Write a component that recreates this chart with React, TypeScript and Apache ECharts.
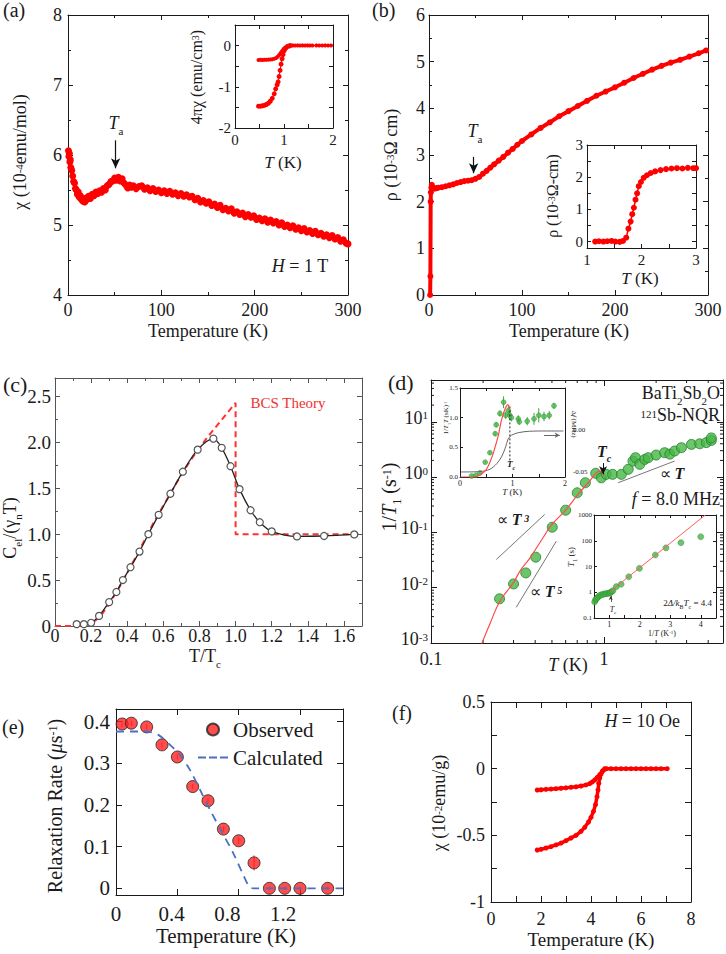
import React, { useEffect, useRef } from 'react';
import * as echarts from 'echarts';

const SERIF = 'Liberation Serif, Times New Roman, Times, serif';
const INK = '#1a1a1a';
const RED = '#ff0000';
const GREEN = '#46b646';
const GREEN_EDGE = '#24802a';

// ---------- (a) susceptibility ----------
const aChi = [
  [0.5, 6.06], [1, 5.98], [1.5, 6.02], [2, 5.9], [2.5, 5.93], [3, 5.82], [4, 5.78], [5, 5.7], [6, 5.62], [7, 5.6],
  [8, 5.52], [9, 5.5], [10, 5.44], [11, 5.47], [12, 5.4], [13, 5.42], [14, 5.37], [15, 5.39], [16, 5.34], [17, 5.37],
  [18, 5.33], [19, 5.38], [20, 5.36], [22, 5.41], [24, 5.38], [26, 5.44], [28, 5.42], [30, 5.47], [32, 5.45], [34, 5.49],
  [36, 5.47], [38, 5.52], [40, 5.5], [42, 5.56], [44, 5.58], [46, 5.62], [48, 5.63], [50, 5.67], [52, 5.64], [54, 5.68],
  [56, 5.63], [58, 5.66], [60, 5.6], [62, 5.57], [64, 5.53], [66, 5.57], [68, 5.54], [70, 5.56], [73, 5.52], [76, 5.55],
  [79, 5.56], [82, 5.51], [85, 5.53], [88, 5.49], [91, 5.52], [94, 5.48], [97, 5.5], [100, 5.46], [103, 5.49], [106, 5.45],
  [109, 5.48], [112, 5.44], [115, 5.46], [118, 5.42], [121, 5.45], [124, 5.41], [127, 5.43], [130, 5.4], [133, 5.41], [136, 5.36],
  [139, 5.38], [142, 5.33], [145, 5.35], [148, 5.31], [151, 5.33], [154, 5.28], [157, 5.3], [160, 5.25], [163, 5.28], [166, 5.22],
  [169, 5.24], [172, 5.2], [175, 5.23], [178, 5.17], [181, 5.19], [184, 5.15], [187, 5.17], [190, 5.12], [193, 5.15], [196, 5.11],
  [199, 5.13], [202, 5.08], [205, 5.1], [208, 5.06], [211, 5.09], [214, 5.04], [217, 5.07], [220, 5.03], [223, 5.05], [226, 5.0],
  [229, 5.03], [232, 4.98], [235, 5.0], [238, 4.96], [241, 4.99], [244, 4.94], [247, 4.96], [250, 4.92], [253, 4.95], [256, 4.9],
  [259, 4.92], [262, 4.88], [265, 4.91], [268, 4.86], [271, 4.88], [274, 4.84], [277, 4.86], [280, 4.82], [283, 4.85], [286, 4.8],
  [289, 4.82], [292, 4.77], [295, 4.79], [298, 4.74], [300, 4.73],
];
const aTaArrow = [[51, 6.21], [51, 5.81]];
const aInsFC = [
  [0.48, -0.35], [0.52, -0.345], [0.56, -0.35], [0.6, -0.345], [0.64, -0.345], [0.68, -0.34], [0.72, -0.335], [0.76, -0.33],
  [0.8, -0.32], [0.84, -0.3], [0.87, -0.27], [0.9, -0.23], [0.93, -0.18], [0.96, -0.13], [0.99, -0.085], [1.02, -0.05],
  [1.05, -0.025], [1.09, -0.01], [1.13, 0], [1.18, 0.005], [1.23, 0], [1.28, 0.005], [1.33, 0], [1.38, 0.005], [1.43, 0],
  [1.48, 0.005], [1.53, 0], [1.58, 0], [1.66, 0.005], [1.72, 0], [1.78, 0], [1.84, 0.005], [1.9, 0], [1.96, 0],
];
const aInsZFC = [
  [0.48, -1.47], [0.52, -1.47], [0.56, -1.46], [0.6, -1.45], [0.64, -1.43], [0.68, -1.4], [0.72, -1.35], [0.76, -1.28],
  [0.8, -1.17], [0.83, -1.05], [0.86, -0.95], [0.88, -0.88], [0.9, -0.75], [0.92, -0.6], [0.94, -0.45], [0.96, -0.32],
  [0.98, -0.22], [1.0, -0.13], [1.03, -0.07], [1.06, -0.03], [1.1, -0.01], [1.13, 0],
];

// ---------- (b) resistivity ----------
const bRho = [
  [1.2, 0], [1.5, 0.4], [1.8, 2.0], [2.0, 2.2], [2.5, 2.3], [3, 2.36], [4, 2.3], [6, 2.28], [8, 2.29], [10, 2.3],
  [14, 2.31], [18, 2.33], [22, 2.35], [26, 2.37], [30, 2.4], [34, 2.42], [38, 2.44], [42, 2.45], [46, 2.46], [50, 2.49],
  [54, 2.53], [58, 2.6], [62, 2.66], [66, 2.73], [70, 2.8], [75, 2.88], [80, 2.96], [85, 3.05], [90, 3.13], [95, 3.22],
  [100, 3.3], [110, 3.44], [120, 3.58], [130, 3.7], [140, 3.83], [150, 3.94], [160, 4.05], [170, 4.16], [180, 4.27],
  [190, 4.36], [200, 4.45], [210, 4.55], [220, 4.65], [230, 4.74], [240, 4.83], [250, 4.91], [260, 4.98], [270, 5.04],
  [280, 5.11], [290, 5.18], [298, 5.24],
];
const bTaArrow = [[48, 2.96], [48, 2.61]];
const bIns = [
  [1.15, 0], [1.22, 0.01], [1.3, 0], [1.37, 0.01], [1.45, 0.02], [1.52, 0], [1.6, -0.01], [1.66, 0.02], [1.72, 0.12],
  [1.76, 0.4], [1.8, 0.62], [1.83, 0.85], [1.86, 1.05], [1.89, 1.3], [1.92, 1.5], [1.95, 1.72], [1.99, 1.85], [2.04, 1.98],
  [2.1, 2.06], [2.17, 2.13], [2.25, 2.18], [2.35, 2.22], [2.45, 2.25], [2.55, 2.27], [2.65, 2.28], [2.75, 2.27],
  [2.85, 2.29], [2.95, 2.28], [3.0, 2.28],
];

// ---------- (c) specific heat ----------
const cCel = [
  [0.12, 0.02], [0.16, 0.02], [0.2, 0.035], [0.244, 0.11], [0.3, 0.26], [0.34, 0.37], [0.376, 0.5], [0.418, 0.64],
  [0.468, 0.81], [0.517, 1.0], [0.574, 1.21], [0.639, 1.44], [0.708, 1.68], [0.79, 1.92], [0.877, 2.04], [0.923, 1.94],
  [0.972, 1.74], [1.022, 1.49], [1.083, 1.26], [1.134, 1.13], [1.2, 1.03], [1.34, 0.975], [1.49, 0.98], [1.657, 0.997],
];
const cBCS = [
  [0, 0], [0.1, 0], [0.15, 0.004], [0.2, 0.025], [0.25, 0.1], [0.3, 0.24], [0.35, 0.4], [0.4, 0.58], [0.45, 0.76],
  [0.5, 0.95], [0.55, 1.14], [0.6, 1.31], [0.65, 1.48], [0.7, 1.65], [0.75, 1.8], [0.8, 1.94], [0.85, 2.07], [0.9, 2.19],
  [0.95, 2.31], [1.0, 2.43], [1.0, 1.0], [1.7, 1.0],
];

// ---------- (d) NQR 1/T1 ----------
const dRate = [
  [0.249, 0.0063], [0.3, 0.0117], [0.353, 0.0185], [0.403, 0.0356], [0.502, 0.124], [0.6, 0.252], [0.7, 0.52],
  [0.78, 0.79], [0.895, 1.17], [0.965, 0.97], [1.03, 1.12], [1.12, 1.12], [1.26, 1.12], [1.38, 1.38], [1.47, 1.95],
  [1.52, 2.24], [1.61, 1.7], [1.72, 2.09], [1.8, 2.24], [2.0, 2.5], [2.24, 2.76], [2.4, 2.6], [2.56, 2.96], [2.8, 3.4],
  [3.2, 3.9], [3.57, 4.0], [3.9, 4.2], [4.17, 4.6], [4.17, 5.1],
];
const dFit = [
  [0.196, 0.00095], [0.22, 0.0023], [0.25, 0.0057], [0.3, 0.0125], [0.33, 0.021], [0.372, 0.034], [0.444, 0.08],
  [0.5, 0.139], [0.6, 0.252], [0.707, 0.485], [0.827, 0.85], [0.903, 1.2], [0.95, 1.28], [1.0, 1.08],
];
const dT3 = [[0.2385, 0.0323], [0.454, 0.211]];
const dT5 = [[0.311, 0.00442], [0.53, 0.0693]];
const dT1 = [[1.205, 0.789], [2.56, 1.95]];
const dTcArrow = [[0.987, 1.79], [0.987, 1.13]];
const dMinorX = [0.2, 0.3, 0.4, 0.5, 0.6, 0.7, 0.8, 0.9, 2, 3, 4];
const dMinorY = [
  0.002, 0.003, 0.004, 0.005, 0.006, 0.007, 0.008, 0.009, 0.02, 0.03, 0.04, 0.05, 0.06, 0.07, 0.08, 0.09,
  0.2, 0.3, 0.4, 0.5, 0.6, 0.7, 0.8, 0.9, 2, 3, 4, 5, 6, 7, 8, 9, 20, 30, 40, 50,
];
// inset d1: 1/T1T vs T, with error, and frequency shift
const d1Green = [
  [0.22, 0.017, 0.01], [0.3, 0.03, 0.01], [0.38, 0.07, 0.01], [0.48, 0.25, 0.02], [0.57, 0.41, 0.03], [0.67, 0.73, 0.04],
  [0.69, 0.88, 0.04], [0.76, 1.07, 0.05], [0.83, 1.26, 0.1], [0.87, 1.04, 0.06], [0.92, 1.12, 0.08], [0.95, 1.04, 0.08],
  [0.98, 1.0, 0.06], [1.11, 0.98, 0.06], [1.13, 0.93, 0.05], [1.28, 0.94, 0.07], [1.41, 0.98, 0.1], [1.5, 1.04, 0.12],
  [1.6, 1.02, 0.08], [1.7, 1.04, 0.07], [1.79, 1.2, 0.05],
];
const d1Red = [
  [0, 0], [0.25, 0], [0.35, 0.02], [0.45, 0.08], [0.51, 0.14], [0.57, 0.25], [0.63, 0.39], [0.68, 0.54], [0.73, 0.7],
  [0.79, 0.96], [0.86, 1.15], [0.91, 1.22], [0.95, 1.14],
];
const d1Gray = [
  [0.02, -0.05], [0.38, -0.0495], [0.57, -0.0468], [0.7, -0.0401], [0.79, -0.0321], [0.857, -0.0223], [0.92, -0.0104],
  [0.98, -0.0063], [1.11, -0.0032], [1.33, -0.0015], [1.65, -0.0012], [1.97, -0.0012],
];
const d1GrayArrow = [[1.6, -0.0063], [1.9, -0.0063]];
const d1TcLine = [[0.95, 0.28], [0.95, 1.2]];
// inset d2: T1 vs 1/T
const d2T1 = [
  [0.52, 0.42], [0.55, 0.5], [0.58, 0.56], [0.62, 0.63], [0.66, 0.7], [0.7, 0.76], [0.75, 0.8], [0.8, 0.84], [0.85, 0.86],
  [0.9, 0.88], [0.95, 0.9], [1.0, 0.92], [1.04, 0.97], [1.08, 1.05], [1.12, 1.15], [1.23, 1.65], [1.39, 2.04], [1.64, 4.0],
  [1.99, 8.5], [2.51, 28], [2.86, 53], [3.35, 84], [4.0, 143],
];
const d2Fit = [[1.0, 1.0], [4.15, 1000]];
const d2TcArrow = [[1.05, 0.42], [1.05, 0.72]];

// ---------- (e) muSR relaxation ----------
const eObs = [
  [0.04, 0.394, 0.006], [0.1, 0.396, 0.006], [0.2, 0.387, 0.006], [0.3, 0.344, 0.006], [0.4, 0.315, 0.006],
  [0.5, 0.244, 0.006], [0.6, 0.21, 0.006], [0.7, 0.142, 0.006], [0.8, 0.114, 0.008], [0.9, 0.061, 0.018],
  [1.0, 0, 0.004], [1.1, 0, 0.004], [1.2, 0, 0.004], [1.38, 0, 0.004],
];
const eCalc = [
  [0, 0.376], [0.2, 0.376], [0.276, 0.368], [0.341, 0.348], [0.417, 0.32], [0.482, 0.284], [0.548, 0.236],
  [0.613, 0.188], [0.689, 0.136], [0.765, 0.084], [0.83, 0.032], [0.869, 0.004], [0.895, 0], [1.48, 0],
];

// ---------- (f) susceptibility ----------
const fFC = [
  [1.85, -0.16], [2.0, -0.158], [2.2, -0.155], [2.4, -0.153], [2.6, -0.15], [2.8, -0.147], [3.0, -0.144], [3.2, -0.14],
  [3.4, -0.136], [3.6, -0.13], [3.8, -0.122], [3.95, -0.112], [4.05, -0.1], [4.15, -0.085], [4.25, -0.065], [4.35, -0.045],
  [4.45, -0.022], [4.55, -0.005], [4.62, 0], [4.8, 0], [5.0, 0], [5.2, 0], [5.4, 0], [5.6, 0], [5.8, 0], [6.0, 0],
  [6.2, 0], [6.4, 0], [6.6, 0], [6.8, 0], [7.05, 0],
];
const fZFC = [
  [1.85, -0.61], [2.0, -0.605], [2.2, -0.595], [2.4, -0.585], [2.6, -0.572], [2.8, -0.558], [3.0, -0.54], [3.2, -0.52],
  [3.4, -0.5], [3.6, -0.47], [3.75, -0.44], [3.9, -0.4], [4.0, -0.365], [4.1, -0.32], [4.18, -0.27], [4.24, -0.21],
  [4.28, -0.16], [4.31, -0.11], [4.35, -0.07], [4.4, -0.04], [4.47, -0.015], [4.55, 0],
];

// ---------- helpers ----------
const isMult = (v: number, s: number) => Math.abs(v / s - Math.round(v / s)) < 1e-6;
const stepFmt = (s: number, d: number, z = '0') => (v: number) =>
  isMult(v, s) ? (Math.abs(v) < 1e-9 ? z : v.toFixed(d)) : '';
const isPow10 = (v: number) => {
  const e = Math.log10(v);
  return Math.abs(e - Math.round(e)) < 1e-6;
};

function rich(size: number, color = INK) {
  const s = Math.round(size * 0.62);
  const pb = Math.round(size * 0.22);
  const base: any = { fontFamily: SERIF, fontSize: size, lineHeight: size, color, verticalAlign: 'bottom', padding: [0, 0, pb, 0] };
  const small: any = { fontFamily: SERIF, fontSize: s, lineHeight: s, color, verticalAlign: 'bottom' };
  const up = Math.round(size * 0.52);
  return {
    n: base,
    i: { ...base, fontStyle: 'italic' },
    b: { ...base, fontStyle: 'italic', fontWeight: 'bold' },
    sup: { ...small, padding: [0, 0, up, 0] },
    supb: { ...small, fontStyle: 'italic', fontWeight: 'bold', padding: [0, 0, up, 0] },
    sub: { ...small, padding: [0, 0, 0, 0] },
    subi: { ...small, fontStyle: 'italic', padding: [0, 0, 0, 0] },
    subb: { ...small, fontStyle: 'italic', fontWeight: 'bold', padding: [0, 0, 0, 0] },
  };
}

function txt(x: number, y: number, text: string, size: number, o: any = {}) {
  return {
    type: 'text', x, y, rotation: o.rot || 0, silent: true, z: 100,
    style: {
      text, rich: rich(size, o.color || INK), align: o.align || 'center', verticalAlign: 'middle',
      fill: o.color || INK, fontFamily: SERIF, fontSize: size,
    },
  };
}

function buildOption() {
  const xAxes: any[] = [];
  const yAxes: any[] = [];
  const mk = (p: any) => {
    const c = p.color || INK;
    const tl = p.tick ?? 5;
    const a: any = {
      type: p.type || 'value',
      gridIndex: p.grid,
      position: p.pos,
      min: p.min,
      max: p.max,
      axisLine: { show: p.line !== false, onZero: false, lineStyle: { color: c, width: 1 } },
      axisTick: { show: p.ticks !== false, inside: true, length: tl, lineStyle: { color: c, width: 1 } },
      minorTick: { show: !!p.minor, splitNumber: p.minor || 5, length: Math.max(2, Math.round(tl * 0.55)), lineStyle: { color: c, width: 1 } },
      splitLine: { show: false },
      minorSplitLine: { show: false },
      axisLabel: p.fmt
        ? { show: true, formatter: p.fmt, fontFamily: SERIF, fontSize: p.fs || 18, color: INK, margin: p.margin ?? 6, rich: p.rich, hideOverlap: false }
        : { show: false },
    };
    if (p.interval != null) a.interval = p.interval;
    if (p.type === 'log') a.logBase = 10;
    return a;
  };
  const addX = (p: any) => { xAxes.push(mk(p)); return xAxes.length - 1; };
  const addY = (p: any) => { yAxes.push(mk(p)); return yAxes.length - 1; };
  const pairX = (p: any, mirror: any = {}) => { const i = addX({ ...p, pos: 'bottom' }); addX({ ...p, ...mirror, pos: 'top', fmt: null }); return i; };
  const pairY = (p: any, mirror: any = {}) => { const i = addY({ ...p, pos: 'left' }); addY({ ...p, ...mirror, pos: 'right', fmt: null }); return i; };

  const grids = [
    { left: 68, top: 15, width: 280, height: 280 }, // 0 a
    { left: 235, top: 25, width: 98, height: 103 }, // 1 a inset
    { left: 429, top: 15, width: 279, height: 280 }, // 2 b
    { left: 587, top: 145, width: 109, height: 103 }, // 3 b inset
    { left: 55, top: 378, width: 307, height: 248 }, // 4 c
    { left: 431, top: 380, width: 292, height: 263 }, // 5 d
    { left: 460, top: 388, width: 105, height: 89 }, // 6 d1
    { left: 594, top: 515, width: 122, height: 103 }, // 7 d2
    { left: 116, top: 709, width: 227, height: 186 }, // 8 e
    { left: 491, top: 702, width: 200, height: 200 }, // 9 f
  ].map((g) => ({ ...g, containLabel: false, outerBoundsMode: 'none' }));

  // (a)
  const xa = pairX({ grid: 0, min: 0, max: 300, interval: 100, minor: 2, fmt: stepFmt(100, 0), fs: 18, margin: 6 });
  const ya = pairY({ grid: 0, min: 4, max: 8, interval: 1, minor: 2, fmt: stepFmt(1, 0), fs: 18, margin: 6 });
  const xai = pairX({ grid: 1, min: 0, max: 2, interval: 0.5, tick: 4, fmt: stepFmt(1, 0), fs: 15, margin: 4 });
  const yai = pairY({ grid: 1, min: -2, max: 0.5, interval: 0.5, tick: 4, fmt: stepFmt(1, 0), fs: 15, margin: 4 });
  // (b)
  const xb = pairX({ grid: 2, min: 0, max: 300, interval: 100, minor: 2, fmt: stepFmt(100, 0), fs: 18, margin: 6 });
  const yb = pairY({ grid: 2, min: 0, max: 6, interval: 1, minor: 2, fmt: stepFmt(1, 0), fs: 18, margin: 4 });
  const xbi = pairX({ grid: 3, min: 1, max: 3, interval: 0.5, tick: 4, fmt: stepFmt(1, 0), fs: 15, margin: 4 });
  const ybi = pairY({ grid: 3, min: -0.2, max: 3, tick: 4, fmt: stepFmt(1, 0), fs: 15, margin: 4 });
  // (c)
  const xc = pairX({ grid: 4, min: 0, max: 1.7, interval: 0.2, minor: 2, color: '#555', fmt: stepFmt(0.2, 1), fs: 18, margin: 1 });
  const yc = pairY({ grid: 4, min: 0, max: 2.7, interval: 0.5, minor: 2, color: '#555', fmt: stepFmt(0.5, 1), fs: 19, margin: 4 });
  // (d)
  const dxFmt = (v: number) => (Math.abs(v - 0.1) < 1e-9 ? '0.1' : Math.abs(v - 1) < 1e-9 ? '1' : '');
  const dyFmt = (v: number) => (isPow10(v) ? `{n|10}{s|${Math.round(Math.log10(v))}}` : '');
  const dyRich = {
    n: { fontFamily: SERIF, fontSize: 18, lineHeight: 18, color: INK, verticalAlign: 'bottom', padding: [0, 0, 4, 0] },
    s: { fontFamily: SERIF, fontSize: 11, lineHeight: 11, color: INK, verticalAlign: 'bottom', padding: [0, 0, 10, 0] },
  };
  const xd = pairX({ grid: 5, type: 'log', min: 0.1, max: 4.87, tick: 6, fmt: dxFmt, fs: 18, margin: 7 });
  const yd = pairY({ grid: 5, type: 'log', min: 0.001, max: 56.9, tick: 6, fmt: dyFmt, rich: dyRich, fs: 18, margin: 3 });
  const xd1 = pairX({ grid: 6, min: 0, max: 2, interval: 0.5, tick: 3, fmt: stepFmt(1, 0), fs: 8, margin: 2 });
  const yd1 = addY({ grid: 6, pos: 'left', min: 0, max: 1.5, interval: 0.5, tick: 3, fmt: stepFmt(0.5, 1, '0.0'), fs: 7, margin: 2 });
  const yd1r = addY({
    grid: 6, pos: 'right', min: -0.056, max: 0.05, interval: 0.002, ticks: false, fs: 7, margin: 8,
    fmt: (v: number) => (Math.abs(v) < 1e-9 ? '0.00' : Math.abs(v + 0.05) < 1e-9 ? '-0.05' : ''),
  });
  const d2yFmt = (v: number) => {
    if (!isPow10(v)) return '';
    const r = Math.round(Math.log10(v));
    return r >= 0 ? String(Math.pow(10, r)) : '0.1';
  };
  const xd2 = pairX({ grid: 7, min: 0.5, max: 4.5, interval: 0.5, tick: 3, fmt: stepFmt(1, 0), fs: 8, margin: 2 });
  const yd2 = pairY({ grid: 7, type: 'log', min: 0.1, max: 1000, tick: 3, fmt: d2yFmt, fs: 7, margin: 2 });
  // (e)
  const xe = pairX({ grid: 8, min: 0, max: 1.48, interval: 0.4, tick: 6 });
  addX({
    grid: 8, pos: 'bottom', min: 0, max: 1.63, interval: 0.4, line: false, ticks: false, fs: 21, margin: 8,
    fmt: (v: number) => (isMult(v, 0.4) && v < 1.5 ? (Math.abs(v) < 1e-9 ? '0' : v.toFixed(1)) : ''),
  });
  const ye = pairY({ grid: 8, min: -0.016, max: 0.43, tick: 6, fmt: stepFmt(0.1, 1), fs: 21, margin: 6 });
  // (f)
  const xf = pairX({ grid: 9, min: 0, max: 8, interval: 1, tick: 6, fmt: stepFmt(2, 0), fs: 18, margin: 8 });
  const yf = pairY({
    grid: 9, min: -1, max: 0.5, interval: 0.25, tick: 6, fs: 18, margin: 6,
    fmt: (v: number) => (isMult(v, 0.5) ? String(Math.round(v * 10) / 10) : ''),
  });

  const arrowLine = (pts: number[][], color = '#111', size = [7, 10], width = 1.2) => ({
    silent: true, symbol: ['none', 'arrow'], symbolSize: size, animation: false,
    lineStyle: { color, width, type: 'solid' }, label: { show: false }, emphasis: { disabled: true },
    data: [[{ coord: pts[0] }, { coord: pts[1] }]],
  });
  const on = (x: number, y: number) => ({ xAxisIndex: x, yAxisIndex: y });
  const dotLine = (name: string, data: any, color: string, size: number, width: number, extra: any = {}) => ({
    name, type: 'line', data, showSymbol: true, showAllSymbol: true, symbol: 'circle', symbolSize: size,
    itemStyle: { color }, lineStyle: { color, width }, emphasis: { disabled: true }, ...extra,
  });
  const errSeries = (name: string, data: any, color: string, xi: number, yi: number) => ({
    name, type: 'custom', ...on(xi, yi), data, encode: { x: 0, y: 1 }, silent: true,
    renderItem: (params: any, api: any) => {
      const x = api.value(0), y = api.value(1), e = api.value(2);
      const p1 = api.coord([x, y - e]);
      const p2 = api.coord([x, y + e]);
      return { type: 'line', shape: { x1: p1[0], y1: p1[1], x2: p2[0], y2: p2[1] }, style: { stroke: color, lineWidth: 1 } };
    },
  });

  const series: any[] = [
    // (a)
    dotLine('a', aChi, RED, 7, 3, { ...on(xa, ya), markLine: arrowLine(aTaArrow) }),
    dotLine('aFC', aInsFC, RED, 4, 1, on(xai, yai)),
    dotLine('aZFC', aInsZFC, RED, 5, 1, on(xai, yai)),
    // (b)
    dotLine('b', bRho, RED, 6, 4, { ...on(xb, yb), markLine: arrowLine(bTaArrow) }),
    dotLine('bIns', bIns, RED, 6, 1.5, on(xbi, ybi)),
    // (c)
    {
      name: 'BCS', type: 'line', ...on(xc, yc), data: cBCS, showSymbol: false,
      lineStyle: { color: '#ff3030', width: 2, type: [6, 4] }, emphasis: { disabled: true },
    },
    {
      name: 'Cel', type: 'line', ...on(xc, yc), data: cCel, smooth: 0.3, symbol: 'circle', symbolSize: 7,
      showSymbol: true, showAllSymbol: true, itemStyle: { color: '#ffffff', borderColor: '#555', borderWidth: 1.2 },
      lineStyle: { color: '#222', width: 1.3 }, emphasis: { disabled: true },
    },
    // (d) main
    {
      name: 'dminx', type: 'custom', ...on(xd, yd), data: dMinorX.map((v) => [v, 1]), encode: { x: 0, y: 1 }, silent: true,
      renderItem: (params: any, api: any) => {
        const p = api.coord([api.value(0), 1]);
        const cs = params.coordSys;
        const b = cs.y + cs.height;
        return {
          type: 'group', children: [
            { type: 'line', shape: { x1: p[0], y1: b, x2: p[0], y2: b - 3 }, style: { stroke: INK, lineWidth: 1 } },
            { type: 'line', shape: { x1: p[0], y1: cs.y, x2: p[0], y2: cs.y + 3 }, style: { stroke: INK, lineWidth: 1 } },
          ],
        };
      },
    },
    {
      name: 'dminy', type: 'custom', ...on(xd, yd), data: dMinorY.map((v) => [1, v]), encode: { x: 0, y: 1 }, silent: true,
      renderItem: (params: any, api: any) => {
        const p = api.coord([1, api.value(1)]);
        const cs = params.coordSys;
        const r = cs.x + cs.width;
        return {
          type: 'group', children: [
            { type: 'line', shape: { x1: cs.x, y1: p[1], x2: cs.x + 3, y2: p[1] }, style: { stroke: INK, lineWidth: 1 } },
            { type: 'line', shape: { x1: r, y1: p[1], x2: r - 3, y2: p[1] }, style: { stroke: INK, lineWidth: 1 } },
          ],
        };
      },
    },
    { name: 'T3', type: 'line', ...on(xd, yd), data: dT3, showSymbol: false, lineStyle: { color: '#777', width: 1 }, emphasis: { disabled: true } },
    { name: 'T5', type: 'line', ...on(xd, yd), data: dT5, showSymbol: false, lineStyle: { color: '#777', width: 1 }, emphasis: { disabled: true } },
    { name: 'T1', type: 'line', ...on(xd, yd), data: dT1, showSymbol: false, lineStyle: { color: '#777', width: 1 }, emphasis: { disabled: true } },
    {
      name: 'dFit', type: 'line', ...on(xd, yd), data: dFit, smooth: 0.4, showSymbol: false,
      lineStyle: { color: '#ff4a4a', width: 1.2 }, emphasis: { disabled: true }, markLine: arrowLine(dTcArrow, '#111', [6, 8], 1),
    },
    {
      name: 'dRate', type: 'scatter', ...on(xd, yd), data: dRate, symbolSize: 10,
      itemStyle: { color: GREEN, borderColor: GREEN_EDGE, borderWidth: 1 }, emphasis: { disabled: true },
    },
    // (d1) inset
    {
      name: 'd1Gray', type: 'line', ...on(xd1, yd1r), data: d1Gray, smooth: 0.3, showSymbol: false,
      lineStyle: { color: '#666', width: 1 }, emphasis: { disabled: true }, markLine: arrowLine(d1GrayArrow, '#666', [4, 5], 1),
    },
    {
      name: 'd1Tc', type: 'line', ...on(xd1, yd1), data: d1TcLine, showSymbol: false,
      lineStyle: { color: '#222', width: 1, type: [2, 2] }, emphasis: { disabled: true },
    },
    {
      name: 'd1Red', type: 'line', ...on(xd1, yd1), data: d1Red, smooth: 0.3, showSymbol: false,
      lineStyle: { color: '#ff4a4a', width: 1.2 }, emphasis: { disabled: true },
    },
    errSeries('d1Err', d1Green, '#3da83d', xd1, yd1),
    {
      name: 'd1Green', type: 'scatter', ...on(xd1, yd1), data: d1Green, symbolSize: 5,
      itemStyle: { color: GREEN, borderColor: GREEN_EDGE, borderWidth: 0.5 }, emphasis: { disabled: true },
    },
    // (d2) inset
    {
      name: 'd2Fit', type: 'line', ...on(xd2, yd2), data: d2Fit, showSymbol: false,
      lineStyle: { color: '#ff5a5a', width: 1 }, emphasis: { disabled: true }, markLine: arrowLine(d2TcArrow, '#333', [3, 4], 0.8),
    },
    {
      name: 'd2T1', type: 'scatter', ...on(xd2, yd2), data: d2T1, symbolSize: 6,
      itemStyle: { color: GREEN, borderColor: GREEN_EDGE, borderWidth: 0.5 }, emphasis: { disabled: true },
    },
    // (e)
    {
      name: 'Calculated', type: 'line', ...on(xe, ye), data: eCalc, smooth: 0.3, showSymbol: false, symbol: 'none',
      itemStyle: { color: '#4d6fbf' }, lineStyle: { color: '#4d6fbf', width: 1.8, type: [8, 6] }, emphasis: { disabled: true },
    },
    errSeries('eErr', eObs, '#ff2a2a', xe, ye),
    {
      name: 'Observed', type: 'scatter', ...on(xe, ye), data: eObs, symbolSize: 12,
      itemStyle: { color: '#ff1f1f', borderColor: '#222', borderWidth: 1 }, emphasis: { disabled: true },
    },
    // (f)
    dotLine('fFC', fFC, RED, 5, 3.5, on(xf, yf)),
    dotLine('fZFC', fZFC, RED, 5, 3.5, on(xf, yf)),
  ];

  const graphic: any[] = [
    // panel letters
    txt(3, 14, '{n|(a)}', 20, { align: 'left' }),
    txt(372, 14, '{n|(b)}', 20, { align: 'left' }),
    txt(3, 389, '{n|(c)}', 22, { align: 'left' }),
    txt(388, 387, '{n|(d)}', 22, { align: 'left' }),
    txt(2, 731, '{n|(e)}', 20, { align: 'left' }),
    txt(392, 717, '{n|(f)}', 20, { align: 'left' }),
    // (a)
    txt(24, 152, '{n|χ (10}{sup|-4}{n|emu/mol)}', 18, { rot: Math.PI / 2 }),
    txt(208, 335, '{n|Temperature (K)}', 18),
    txt(200, 77, '{n|4πχ (emu/cm}{sup|3}{n|)}', 16, { rot: Math.PI / 2 }),
    txt(283, 166, '{i|T}{n| (K)}', 17),
    txt(116, 127, '{i|T}{sub|a}', 18),
    txt(300, 270, '{i|H}{n| = 1 T}', 18),
    // (b)
    txt(395, 155, '{n|ρ (10}{sup|-3}{n|Ω cm)}', 18, { rot: Math.PI / 2 }),
    txt(569, 335, '{n|Temperature (K)}', 18),
    txt(556, 196, '{n|ρ (10}{sup|-3}{n|Ω-cm)}', 16, { rot: Math.PI / 2 }),
    txt(640, 282, '{i|T}{n| (K)}', 17),
    txt(475, 135, '{i|T}{sub|a}', 18),
    // (c)
    txt(14, 528, '{n|C}{sub|el}{n|/(γ}{sub|n}{n|T)}', 18, { rot: Math.PI / 2 }),
    txt(205, 660, '{n|T/T}{sub|c}', 18),
    txt(288, 406, '{n|BCS Theory}', 15, { color: '#f03030' }),
    // (d)
    txt(393, 497, '{n|1/}{i|T}{sub|1}{n| (s}{sup|-1}{n|)}', 20, { rot: Math.PI / 2 }),
    txt(568, 669, '{i|T}{n| (K)}', 18),
    txt(720, 397, '{n|BaTi}{sub|2}{n|Sb}{sub|2}{n|O}', 18, { align: 'right' }),
    txt(720, 419, '{sup|121}{n|Sb-NQR}', 18, { align: 'right' }),
    txt(604, 455, '{b|T}{subb|c}', 16),
    txt(672, 477, '{n|∝ }{b|T}', 16),
    txt(513, 523, '{n|∝ }{b|T}{supb| 3}', 16),
    txt(546, 595, '{n|∝ }{b|T}{supb| 5}', 16),
    txt(720, 503, '{i|f}{n| = 8.0 MHz}', 18, { align: 'right' }),
    txt(448, 418, '{n|1/}{i|T}{sub|1}{i|T}{n| (sK)}{sup|-1}', 7, { rot: Math.PI / 2 }),
    txt(512, 494, '{i|T}{n| (K)}', 9),
    txt(572, 424, '{n|Δ}{i|f}{n| (MHz)}', 7, { rot: -Math.PI / 2 }),
    txt(511, 466, '{b|T}{subb|c}', 9),
    txt(573, 557, '{i|T}{sub|1}{n| (s)}', 9, { rot: Math.PI / 2 }),
    txt(662, 635, '{n|1/}{i|T}{n| (K}{sup|-1}{n|)}', 8),
    txt(712, 605, '{n|2}{i|Δ/k}{sub|B}{i|T}{sub|c}{n| = 4.4}', 9, { align: 'right' }),
    txt(613, 611, '{i|T}{subi|c}', 8),
    // (e)
    txt(59, 806, '{n|Relaxation Rate (}{i|μ}{n|s}{sup|-1}{n|)}', 20, { rot: Math.PI / 2 }),
    txt(226, 941, '{n|Temperature (K)}', 21),
    // (f)
    txt(443, 803, '{n|χ (10}{sup|-2}{n|emu/g)}', 18, { rot: Math.PI / 2 }),
    txt(591, 943, '{n|Temperature (K)}', 19),
    txt(680, 725, '{i|H}{n| = 10 Oe}', 18, { align: 'right' }),
  ];

  return {
    animation: false,
    backgroundColor: '#ffffff',
    textStyle: { fontFamily: SERIF },
    grid: grids,
    xAxis: xAxes,
    yAxis: yAxes,
    legend: {
      data: [
        { name: 'Observed', icon: 'circle' },
        { name: 'Calculated', icon: 'path://M0,4h8v2h-8z M11,4h8v2h-8z M22,4h8v2h-8z' },
      ],
      left: 198, top: 719, orient: 'vertical', itemGap: 7,
      itemWidth: 30, itemHeight: 12, selectedMode: false, padding: 0,
      textStyle: { fontFamily: SERIF, fontSize: 21, color: INK },
    },
    series,
    graphic,
  };
}

export default function App() {
  const ref = useRef<HTMLDivElement>(null);
  useEffect(() => {
    if (!ref.current) return;
    const chart = echarts.init(ref.current, undefined, { renderer: 'svg', width: 726, height: 954 });
    chart.setOption(buildOption() as any);
    return () => chart.dispose();
  }, []);
  return <div ref={ref} style={{ position: 'absolute', left: 0, top: 0, width: 726, height: 954, background: '#fff' }} />;
}
